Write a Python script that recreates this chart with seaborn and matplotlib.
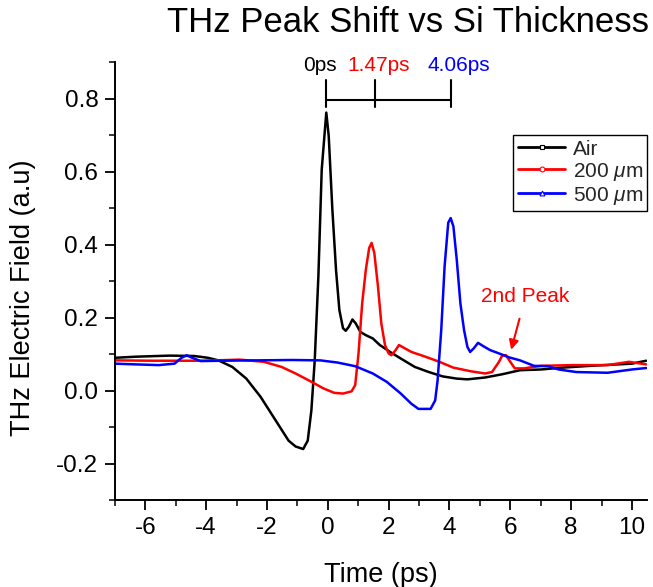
import numpy as np
import pandas as pd
import matplotlib
matplotlib.use("Agg")
import matplotlib.pyplot as plt
from matplotlib.lines import Line2D
from matplotlib.ticker import MultipleLocator
import seaborn as sns

# ---- data ----
air_t = [-7.0, -6.33, -5.2, -4.4, -3.94, -3.6, -3.14, -2.68, -2.21, -1.75, -1.29, -1.06,
         -0.81, -0.66, -0.54, -0.43, -0.31, -0.2, -0.05, 0.03, 0.15, 0.27, 0.38, 0.5, 0.59,
         0.69, 0.81, 0.92, 1.07, 1.25, 1.48, 1.71, 2.05, 2.4, 2.86, 3.32, 3.78, 4.24, 4.59,
         5.17, 5.74, 6.32, 7.01, 7.7, 8.63, 9.55, 10.0, 10.47]
air_e = [0.090, 0.093, 0.096, 0.095, 0.090, 0.083, 0.065, 0.033, -0.017, -0.077, -0.137,
         -0.153, -0.160, -0.137, -0.054, 0.083, 0.313, 0.606, 0.762, 0.698, 0.496, 0.331,
         0.221, 0.171, 0.164, 0.175, 0.195, 0.184, 0.161, 0.152, 0.143, 0.125, 0.106, 0.088,
         0.065, 0.051, 0.039, 0.033, 0.031, 0.036, 0.045, 0.056, 0.058, 0.063, 0.068, 0.072,
         0.074, 0.082]

si200_t = [-7.0, -5.75, -4.06, -2.9, -2.1, -1.52, -1.06, -0.6, -0.14, 0.21, 0.5, 0.78, 0.9,
           1.01, 1.13, 1.25, 1.36, 1.44, 1.53, 1.65, 1.76, 1.88, 2.0, 2.09, 2.23, 2.34, 2.49,
           2.75, 3.21, 3.67, 4.13, 4.71, 5.17, 5.4, 5.63, 5.74, 5.86, 6.0, 6.15, 6.44, 7.01,
           8.05, 9.2, 9.9, 10.47]
si200_e = [0.083, 0.082, 0.082, 0.085, 0.079, 0.065, 0.047, 0.027, 0.006, -0.006, -0.008,
           -0.002, 0.015, 0.102, 0.239, 0.331, 0.391, 0.405, 0.377, 0.285, 0.184, 0.125,
           0.102, 0.097, 0.111, 0.125, 0.118, 0.106, 0.093, 0.079, 0.063, 0.053, 0.047, 0.051,
           0.079, 0.097, 0.097, 0.079, 0.061, 0.061, 0.068, 0.070, 0.070, 0.079, 0.072]

si500_t = [-7.0, -6.33, -5.56, -5.04, -4.81, -4.64, -4.46, -4.18, -3.48, -2.33, -1.18, -0.25,
           0.32, 0.9, 1.48, 1.94, 2.4, 2.75, 2.98, 3.38, 3.53, 3.61, 3.73, 3.84, 3.96, 4.04,
           4.13, 4.24, 4.36, 4.48, 4.59, 4.68, 4.8, 4.94, 5.11, 5.34, 5.63, 5.97, 6.32, 6.78,
           7.24, 7.59, 8.17, 9.2, 10.0, 10.47]
si500_e = [0.074, 0.072, 0.070, 0.074, 0.090, 0.097, 0.090, 0.081, 0.082, 0.083, 0.084,
           0.083, 0.077, 0.067, 0.047, 0.024, -0.008, -0.036, -0.050, -0.050, -0.027, 0.028,
           0.166, 0.340, 0.460, 0.473, 0.450, 0.359, 0.239, 0.166, 0.120, 0.106, 0.116, 0.131,
           0.122, 0.111, 0.102, 0.091, 0.083, 0.068, 0.067, 0.058, 0.051, 0.049, 0.058, 0.062]

series_names = ["Air", "200 $\\mu$m", "500 $\\mu$m"]
series_colors = ["black", "red", "blue"]
series_markers = ["s", "o", "^"]

peak_positions = [-0.05, 1.55, 4.05]
peak_labels = ["0ps", "1.47ps", "4.06ps"]

x_ticks = [-6, -4, -2, 0, 2, 4, 6, 8, 10]
y_ticks = [-0.2, 0.0, 0.2, 0.4, 0.6, 0.8]

df = pd.concat([
    pd.DataFrame({"t": air_t, "E": air_e, "s": series_names[0]}),
    pd.DataFrame({"t": si200_t, "E": si200_e, "s": series_names[1]}),
    pd.DataFrame({"t": si500_t, "E": si500_e, "s": series_names[2]}),
], ignore_index=True)

sns.set_theme(style="ticks")
plt.rcParams["font.family"] = ["Liberation Sans", "DejaVu Sans"]
plt.rcParams["axes.unicode_minus"] = False
plt.rcParams["mathtext.fontset"] = "custom"
plt.rcParams["mathtext.it"] = "Liberation Sans:italic"
plt.rcParams["mathtext.rm"] = "Liberation Sans"

fig = plt.figure(figsize=(6.53, 5.87), dpi=100)
ax = fig.add_axes([0.176, 0.148, 0.815, 0.746])

sns.lineplot(data=df, x="t", y="E", hue="s", palette=dict(zip(series_names, series_colors)),
             sort=False, estimator=None, linewidth=1.8, legend=False, ax=ax)

ax.set_xlim(-7, 10.5)
ax.set_ylim(-0.3, 0.9)
ax.set_xticks(x_ticks)
ax.set_yticks(y_ticks)
ax.set_yticklabels([f"{v:.1f}" for v in y_ticks])
ax.xaxis.set_minor_locator(MultipleLocator(1))
ax.yaxis.set_minor_locator(MultipleLocator(0.1))
ax.tick_params(which="major", direction="out", length=7, width=1.3, labelsize=17.5,
               colors="black", pad=5)
ax.tick_params(which="minor", direction="out", length=4, width=1.3)
sns.despine(ax=ax)
for sp in ["left", "bottom"]:
    ax.spines[sp].set_linewidth(1.4)
    ax.spines[sp].set_color("black")

ax.set_xlabel("Time (ps)", fontsize=19.5, color="black")
ax.set_ylabel("THz Electric Field (a.u)", fontsize=19.5, color="black")
ax.xaxis.set_label_coords(0.5, -0.141)
ax.yaxis.set_label_coords(-0.148, 0.463)
fig.text(408 / 653, 1 - 23 / 587, "THz Peak Shift vs Si Thickness", fontsize=25,
         ha="center", va="center", color="black")

# bracket annotation of peak shift
ax.plot([peak_positions[0], peak_positions[-1]], [0.797, 0.797], color="black", lw=1.5,
        clip_on=False)
for p in peak_positions:
    ax.plot([p, p], [0.778, 0.85], color="black", lw=1.5, clip_on=False)
label_x = [-0.26, 1.68, 4.3]
for lx, lab, c in zip(label_x, peak_labels, series_colors):
    ax.text(lx, 0.892, lab, color=c, fontsize=15, ha="center", va="center", clip_on=False)

# 2nd peak annotation
ax.annotate("2nd Peak", xy=(6.03, 0.112), xytext=(6.5, 0.258), color="red", fontsize=15,
            ha="center", va="center",
            arrowprops=dict(arrowstyle="-|>", color="red", lw=1.5, mutation_scale=14,
                            shrinkA=7, shrinkB=0))

handles = [Line2D([0], [0], color=c, lw=2, marker=m, markersize=3.5, markerfacecolor="white",
                  markeredgecolor=c, markeredgewidth=0.8)
           for c, m in zip(series_colors, series_markers)]
leg = ax.legend(handles, series_names, loc="upper right", bbox_to_anchor=(1.0, 0.833),
                fontsize=15, frameon=True, fancybox=False, framealpha=1, edgecolor="black",
                handlelength=2.3, handletextpad=0.35, labelspacing=0.1, borderpad=0.2,
                borderaxespad=0.0)
leg.get_frame().set_linewidth(1.0)

fig.savefig("out.png", dpi=100)
